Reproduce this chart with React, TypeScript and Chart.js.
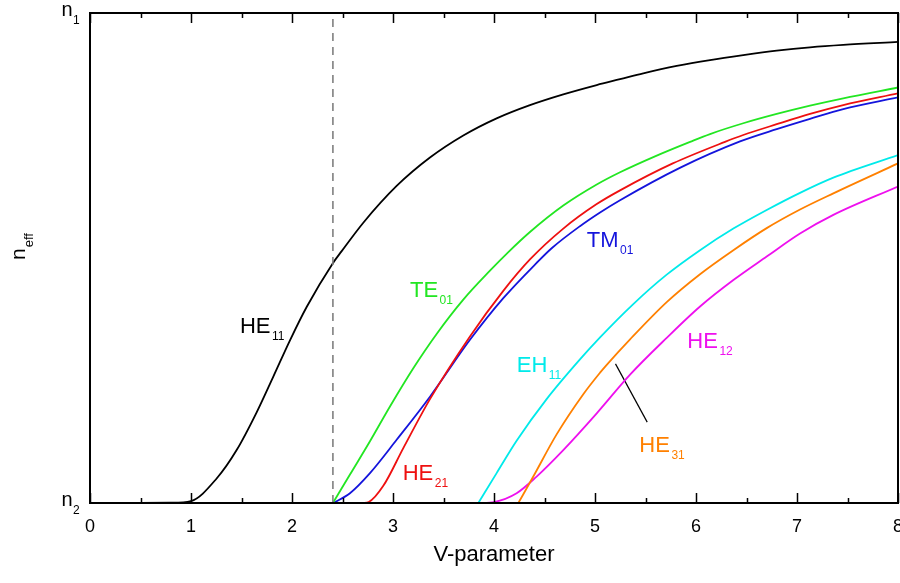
import React, { useEffect, useRef } from "react";
import { Chart, registerables } from "chart.js";

Chart.register(...registerables);

// ---- data (V-parameter vs normalised effective index, 0 = n2, 1 = n1) ----
const he11V = [0.5, 0.8, 1.0, 1.254, 1.452, 1.65, 1.815, 1.98, 2.145, 2.403, 2.492, 2.706, 3.036, 3.366, 3.696, 4.026, 4.356, 4.686, 5.017, 5.248, 5.478, 5.809, 6.139, 6.468, 6.799, 7.129, 7.458, 8.0];
const he11B = [0, 0.0005, 0.004, 0.050, 0.108, 0.185, 0.258, 0.332, 0.40, 0.489, 0.514, 0.572, 0.647, 0.705, 0.750, 0.785, 0.812, 0.834, 0.853, 0.865, 0.877, 0.892, 0.904, 0.914, 0.923, 0.930, 0.935, 0.941];

const te01V = [2.405, 2.574, 2.772, 2.970, 3.201, 3.432, 3.696, 3.960, 4.142, 4.356, 4.686, 5.017, 5.248, 5.6, 5.941, 6.139, 6.468, 6.799, 7.129, 7.458, 8.0];
const te01B = [0, 0.058, 0.126, 0.197, 0.275, 0.345, 0.415, 0.474, 0.512, 0.553, 0.607, 0.650, 0.675, 0.708, 0.737, 0.753, 0.775, 0.794, 0.811, 0.826, 0.848];

const tm01V = [2.41, 2.574, 2.772, 3.036, 3.366, 3.762, 4.092, 4.422, 4.571, 4.851, 5.05, 5.248, 5.84, 6.436, 6.799, 7.129, 7.458, 8.0];
const tm01B = [0, 0.020, 0.061, 0.129, 0.217, 0.333, 0.418, 0.490, 0.520, 0.565, 0.593, 0.618, 0.684, 0.738, 0.763, 0.784, 0.804, 0.828];

const he21V = [2.70, 2.76, 2.904, 3.102, 3.366, 3.762, 4.092, 4.356, 4.686, 5.017, 5.248, 5.77, 6.287, 6.468, 6.799, 7.129, 7.458, 8.0];
const he21B = [0, 0.002, 0.035, 0.112, 0.212, 0.340, 0.433, 0.497, 0.560, 0.610, 0.638, 0.693, 0.737, 0.751, 0.773, 0.794, 0.812, 0.836];

const eh11V = [3.845, 4.026, 4.224, 4.521, 4.851, 5.05, 5.379, 5.710, 6.040, 6.370, 6.700, 7.030, 7.360, 8.0];
const eh11B = [0, 0.061, 0.127, 0.212, 0.293, 0.338, 0.406, 0.466, 0.516, 0.560, 0.598, 0.633, 0.664, 0.710];

const he31V = [4.241, 4.389, 4.620, 4.884, 5.05, 5.116, 5.347, 5.710, 6.040, 6.370, 6.700, 7.030, 7.360, 8.0];
const he31B = [0, 0.054, 0.140, 0.222, 0.266, 0.282, 0.334, 0.410, 0.467, 0.516, 0.561, 0.599, 0.632, 0.693];

const he12V = [3.85, 4.0, 4.224, 4.422, 4.686, 5.017, 5.347, 5.710, 6.040, 6.370, 6.700, 7.030, 7.360, 8.0];
const he12B = [0, 0.002, 0.02, 0.054, 0.108, 0.183, 0.262, 0.337, 0.401, 0.455, 0.503, 0.55, 0.588, 0.646];

const cutoffV = [2.405, 2.405];
const cutoffB = [0, 1];

const leaderV = [5.203, 5.517];
const leaderB = [0.284, 0.165];

const xTicks = [0, 1, 2, 3, 4, 5, 6, 7, 8];
const xTickLabels = ["0", "1", "2", "3", "4", "5", "6", "7", "8"];
const xMinorTicks = [0.5, 1.5, 2.5, 3.5, 4.5, 5.5, 6.5, 7.5];
const yTicks = [0, 1];
const yTickSubs = ["2", "1"];

const modeNames = ["HE", "TE", "TM", "HE", "EH", "HE", "HE"];
const modeSubs = ["11", "01", "01", "21", "11", "12", "31"];
const modeColors = ["#000000", "#22e622", "#1414dc", "#ee1010", "#00eaea", "#ee10ee", "#ff8000"];
const labelV = [1.485, 3.168, 4.918, 3.096, 4.225, 5.914, 5.439];
const labelB = [0.347, 0.420, 0.523, 0.047, 0.268, 0.316, 0.105];

const FONT = '"Liberation Sans", Arial, Helvetica, sans-serif';

function pts(xs: number[], ys: number[]) {
  return xs.map((x, i) => ({ x, y: ys[i] }));
}

const decorPlugin = {
  id: "decor",
  afterDraw(chart: any) {
    const ctx = chart.ctx as CanvasRenderingContext2D;
    const xs = chart.scales.x;
    const ys = chart.scales.y;
    const a = chart.chartArea;
    ctx.save();

    // frame
    ctx.strokeStyle = "#000";
    ctx.lineWidth = 2;
    ctx.strokeRect(a.left, a.top, a.right - a.left, a.bottom - a.top);

    // ticks (inward, bottom and top)
    ctx.lineWidth = 1.5;
    ctx.beginPath();
    xTicks.forEach((v) => {
      const px = Math.round(xs.getPixelForValue(v)) + 0.5;
      ctx.moveTo(px, a.bottom);
      ctx.lineTo(px, a.bottom - 10);
      ctx.moveTo(px, a.top);
      ctx.lineTo(px, a.top + 10);
    });
    xMinorTicks.forEach((v) => {
      const px = Math.round(xs.getPixelForValue(v)) + 0.5;
      ctx.moveTo(px, a.bottom);
      ctx.lineTo(px, a.bottom - 5);
      ctx.moveTo(px, a.top);
      ctx.lineTo(px, a.top + 5);
    });
    ctx.stroke();

    // x tick labels
    ctx.fillStyle = "#000";
    ctx.font = `18px ${FONT}`;
    ctx.textAlign = "center";
    ctx.textBaseline = "alphabetic";
    xTicks.forEach((v, i) => {
      ctx.fillText(xTickLabels[i], xs.getPixelForValue(v), a.bottom + 29);
    });

    // y tick labels n2 / n1
    yTicks.forEach((v, i) => {
      const py = ys.getPixelForValue(v);
      ctx.textAlign = "left";
      ctx.font = `20px ${FONT}`;
      ctx.fillText("n", 61.5, py + 3);
      ctx.font = `12px ${FONT}`;
      ctx.fillText(yTickSubs[i], 73, py + 11);
    });

    // x title
    ctx.textAlign = "center";
    ctx.font = `22px ${FONT}`;
    ctx.fillText("V-parameter", (a.left + a.right) / 2, 561);

    // y title (rotated)
    ctx.save();
    ctx.translate(25, 260);
    ctx.rotate(-Math.PI / 2);
    ctx.textAlign = "left";
    ctx.font = `21px ${FONT}`;
    ctx.fillText("n", 0, 0);
    const nw = ctx.measureText("n").width;
    ctx.font = `13px ${FONT}`;
    ctx.fillText("eff", nw + 1, 8);
    ctx.restore();

    // mode labels
    modeNames.forEach((name, i) => {
      const px = xs.getPixelForValue(labelV[i]);
      const py = ys.getPixelForValue(labelB[i]);
      ctx.fillStyle = modeColors[i];
      ctx.textAlign = "left";
      ctx.font = `22px ${FONT}`;
      ctx.fillText(name, px, py);
      const w = ctx.measureText(name).width;
      ctx.font = `12px ${FONT}`;
      ctx.fillText(modeSubs[i], px + w + 1.5, py + 7);
    });

    ctx.restore();
  },
};

export default function App() {
  const ref = useRef<HTMLCanvasElement | null>(null);

  useEffect(() => {
    if (!ref.current) return;
    const line = (xs: number[], ys: number[], color: string, extra: any = {}) => ({
      data: pts(xs, ys),
      borderColor: color,
      backgroundColor: color,
      borderWidth: 1.8,
      pointRadius: 0,
      fill: false,
      cubicInterpolationMode: "monotone",
      ...extra,
    });
    const chart = new Chart(ref.current, {
      type: "line",
      data: {
        datasets: [
          line(cutoffV, cutoffB, "#808080", { borderDash: [8, 6], borderWidth: 1.6, cubicInterpolationMode: "default", tension: 0 }),
          line(he11V, he11B, modeColors[0]),
          line(te01V, te01B, modeColors[1]),
          line(he21V, he21B, modeColors[3]),
          line(tm01V, tm01B, modeColors[2]),
          line(eh11V, eh11B, modeColors[4]),
          line(he31V, he31B, modeColors[6]),
          line(he12V, he12B, modeColors[5]),
          line(leaderV, leaderB, "#000000", { borderWidth: 1.2, cubicInterpolationMode: "default", tension: 0 }),
        ] as any,
      },
      options: {
        animation: false,
        responsive: true,
        maintainAspectRatio: false,
        layout: { padding: { top: 13, right: 2, left: 0, bottom: 0 } },
        plugins: { legend: { display: false }, tooltip: { enabled: false } },
        scales: {
          x: {
            type: "linear",
            min: 0,
            max: 8,
            ticks: { display: false },
            grid: { display: false },
            border: { display: false },
            afterFit: (s: any) => {
              s.height = 80;
            },
          },
          y: {
            type: "linear",
            min: 0,
            max: 1,
            ticks: { display: false },
            grid: { display: false },
            border: { display: false },
            afterFit: (s: any) => {
              s.width = 90;
            },
          },
        },
      } as any,
      plugins: [decorPlugin],
    });
    return () => chart.destroy();
  }, []);

  return (
    <div style={{ position: "absolute", left: 0, top: 0, width: 900, height: 583, background: "#fff" }}>
      <canvas ref={ref} />
    </div>
  );
}
